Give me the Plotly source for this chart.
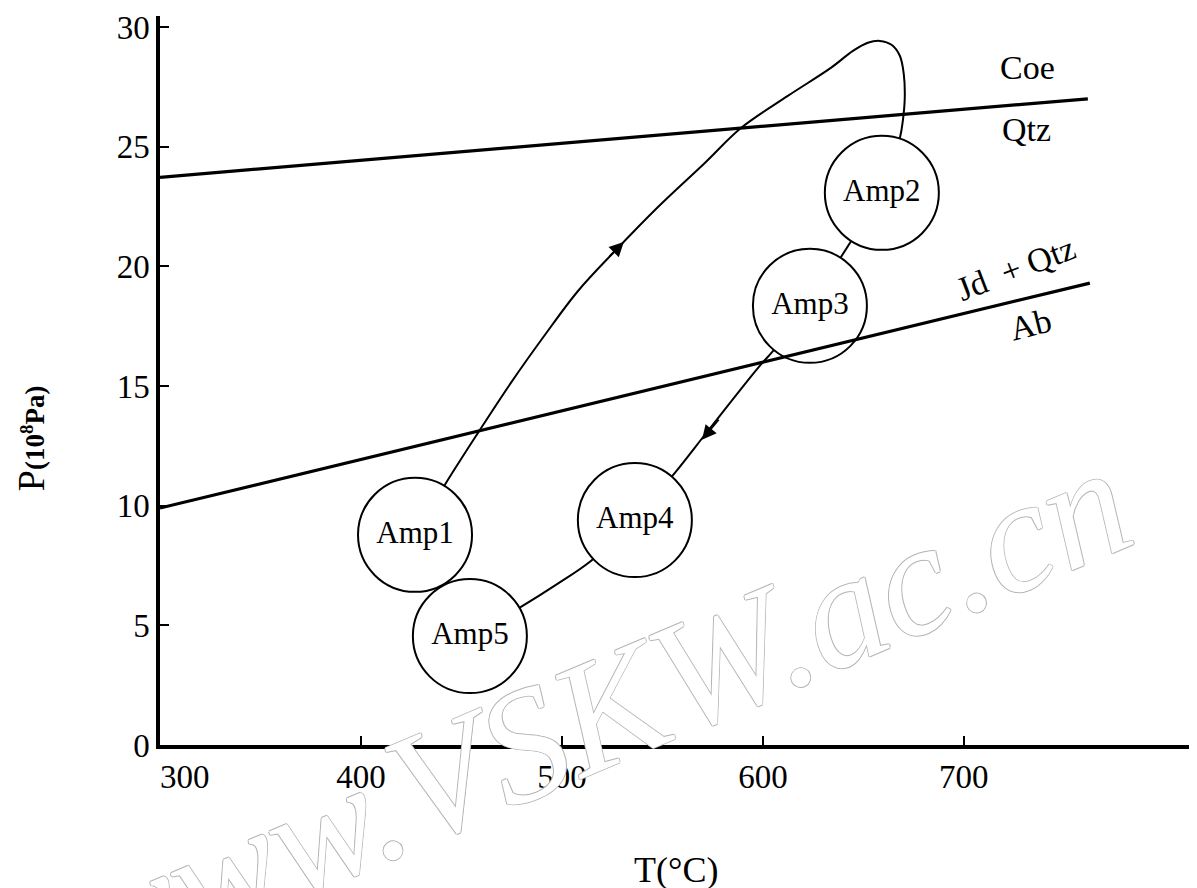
import plotly.graph_objects as go

# ---------------- data (T in °C, P in 10^8 Pa) ----------------
T_ticks = [300, 400, 500, 600, 700]
T_ticktext = ["\u00a0\u00a0\u00a0\u00a0\u00a0\u00a0300", "400", "500", "600", "700"]
P_ticks = [0, 5, 10, 15, 20, 25, 30]

amp_names = ["Amp1", "Amp2", "Amp3", "Amp4", "Amp5"]
amp_T = [426.9, 659.2, 623.4, 536.3, 454.2]
amp_P = [8.78, 23.07, 18.35, 9.40, 4.55]

# reaction boundaries
coe_T = [300, 761.7]
coe_P = [23.72, 27.0]
jd_T = [300, 762.7]
jd_P = [9.9, 19.3]

# P-T path segments
path1_T = [426.9, 442.3, 458.2, 474.6, 491.5, 508.0, 526.4, 547.8, 571.1, 589.1, 612.4,
           633.8, 644.8, 652.2, 658.2, 664.2, 668.2, 670.1, 670.6, 669.7, 668.2, 659.2]
path1_P = [8.78, 10.95, 13.04, 15.13, 17.13, 18.97, 20.64, 22.48, 24.32, 25.78, 27.12,
           28.29, 29.00, 29.34, 29.42, 29.25, 28.79, 28.04, 27.04, 26.12, 25.37, 23.07]
path2_T = [659.2, 623.4]
path2_P = [23.07, 18.35]
path3_T = [623.4, 605.0, 597.5, 572.6, 556.2, 536.3]
path3_P = [18.35, 16.46, 15.75, 13.12, 11.37, 9.40]
path4_T = [454.2, 479.6, 497.0, 514.4, 536.3]
path4_P = [4.55, 5.77, 6.69, 7.69, 9.40]

# direction arrows (tip, tail)
arrow_tip_T = [530.8, 569.7]
arrow_tip_P = [21.02, 12.75]
arrow_tail_T = [522.9, 578.6]
arrow_tail_P = [20.35, 13.66]

# boundary labels
lab_text = ["Coe", "Qtz", "Jd  + Qtz", "Ab"]
lab_T = [731.5, 731.0, 726.0, 733.5]
lab_P = [28.3, 25.7, 19.9, 17.55]
lab_angle = [0, 0, -21, -14]

SERIF = "Liberation Serif"

fig = go.Figure()

for tx, py in [(path1_T, path1_P), (path2_T, path2_P), (path3_T, path3_P), (path4_T, path4_P)]:
    fig.add_trace(go.Scatter(x=tx, y=py, mode="lines",
                             line=dict(color="black", width=2, shape="spline", smoothing=1.0),
                             hoverinfo="skip", showlegend=False))

fig.add_trace(go.Scatter(
    x=amp_T, y=amp_P, mode="markers+text", text=amp_names,
    textposition="middle center",
    textfont=dict(family=SERIF, size=31, color="black"),
    marker=dict(size=114, color="white", line=dict(color="black", width=2)),
    showlegend=False, hoverinfo="skip"))

for tx, py in [(coe_T, coe_P), (jd_T, jd_P)]:
    fig.add_trace(go.Scatter(x=tx, y=py, mode="lines",
                             line=dict(color="black", width=3.2),
                             hoverinfo="skip", showlegend=False))

annotations = []
for i in range(len(arrow_tip_T)):
    annotations.append(dict(x=arrow_tip_T[i], y=arrow_tip_P[i], ax=arrow_tail_T[i], ay=arrow_tail_P[i],
                            xref="x", yref="y", axref="x", ayref="y", text="",
                            showarrow=True, arrowhead=2, arrowsize=1.6, arrowwidth=1.8,
                            arrowcolor="black"))
for t, x, y, a in zip(lab_text, lab_T, lab_P, lab_angle):
    annotations.append(dict(x=x, y=y, xref="x", yref="y", text=t, showarrow=False,
                            textangle=a, xanchor="center", yanchor="middle",
                            font=dict(family=SERIF, size=34, color="black")))

# axis titles
annotations.append(dict(x=0.4938, y=-0.1715, xref="paper", yref="paper", text="T(°C)",
                        xanchor="center", yanchor="middle",
                        showarrow=False, font=dict(family=SERIF, size=36, color="black")))
annotations.append(dict(x=-0.1234, y=0.421, xref="paper", yref="paper",
                        text="P<span style='font-size:27px;font-weight:bold'>(10<sup>8</sup>Pa)</span>",
                        textangle=-90, showarrow=False, xanchor="center", yanchor="middle",
                        font=dict(family=SERIF, size=38, color="black")))

# watermark of the source scan
annotations.append(dict(x=0.419, y=0.044, xref="paper", yref="paper", text="www.VSKW.ac.cn",
                        textangle=-23, showarrow=False, xanchor="center", yanchor="middle",
                        font=dict(family=SERIF, size=160, color="white", style="italic",
                                  shadow="1px 0 0 #b5b5b5, -1px 0 0 #b5b5b5, 0 1px 0 #b5b5b5, 0 -1px 0 #b5b5b5")))

fig.update_layout(
    width=1197, height=888, autosize=False,
    margin=dict(l=152, r=0, t=8, b=151),
    paper_bgcolor="white", plot_bgcolor="white",
    annotations=annotations,
    xaxis=dict(range=[300, 820], tickvals=T_ticks, ticktext=T_ticktext,
               showline=True, linecolor="black", linewidth=3.5,
               ticks="inside", ticklen=9, tickwidth=2, tickcolor="black",
               tickfont=dict(family=SERIF, size=33, color="black"),
               showgrid=False, zeroline=False),
    yaxis=dict(range=[0, 30.46], tickvals=P_ticks, ticktext=[str(v) for v in P_ticks],
               showline=True, linecolor="black", linewidth=3.5,
               ticks="inside", ticklen=9, tickwidth=2, tickcolor="black",
               tickfont=dict(family=SERIF, size=33, color="black"),
               showgrid=False, zeroline=False),
)

fig.write_html("out.html")
